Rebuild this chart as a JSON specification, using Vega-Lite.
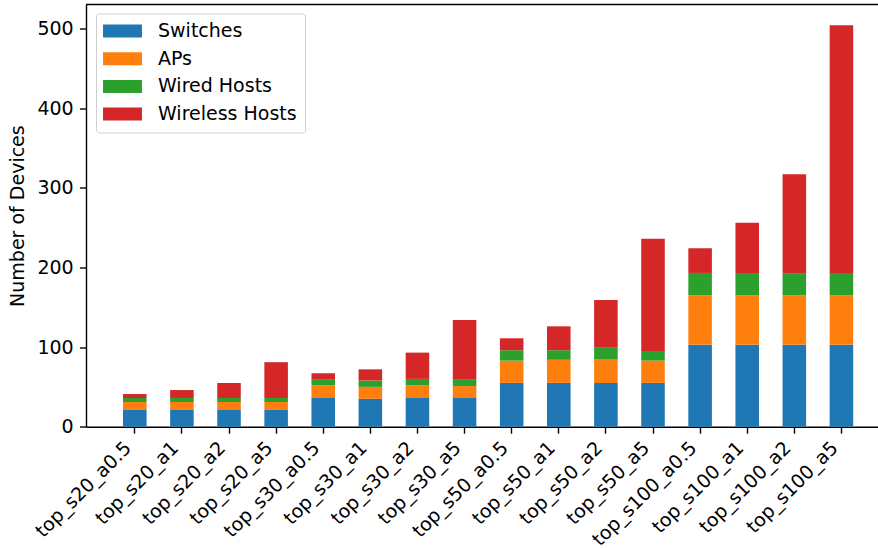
{
  "$schema": "https://vega.github.io/schema/vega-lite/v6.json",
  "autosize": {"type": "none"},
  "width": 792,
  "height": 422.2,
  "padding": {"left": 86, "top": 4.5, "right": 0, "bottom": 121.3},
  "background": "white",
  "config": {
    "view": {"stroke": null},
    "font": "DejaVu Sans",
    "axis": {
      "labelFont": "DejaVu Sans",
      "labelFontSize": 19,
      "labelColor": "black",
      "titleFont": "DejaVu Sans",
      "titleFontSize": 19,
      "titleFontWeight": "normal",
      "titleColor": "black",
      "domainColor": "black",
      "domainWidth": 1.4,
      "tickColor": "black",
      "tickWidth": 1.4,
      "tickSize": 6.5,
      "grid": false
    }
  },
  "layer": [
    {
      "data": {
        "values": [
          {"topology": "top_s20_a0.5", "Switches": 21, "APs": 10, "Wired Hosts": 5, "Wireless Hosts": 5},
          {"topology": "top_s20_a1", "Switches": 21, "APs": 10, "Wired Hosts": 5, "Wireless Hosts": 10},
          {"topology": "top_s20_a2", "Switches": 21, "APs": 10, "Wired Hosts": 5, "Wireless Hosts": 19},
          {"topology": "top_s20_a5", "Switches": 21, "APs": 10, "Wired Hosts": 5, "Wireless Hosts": 45},
          {"topology": "top_s30_a0.5", "Switches": 36, "APs": 16, "Wired Hosts": 7, "Wireless Hosts": 8},
          {"topology": "top_s30_a1", "Switches": 35, "APs": 15, "Wired Hosts": 8, "Wireless Hosts": 14},
          {"topology": "top_s30_a2", "Switches": 36, "APs": 16, "Wired Hosts": 8, "Wireless Hosts": 33},
          {"topology": "top_s30_a5", "Switches": 36, "APs": 15, "Wired Hosts": 8, "Wireless Hosts": 75},
          {"topology": "top_s50_a0.5", "Switches": 55, "APs": 28, "Wired Hosts": 13, "Wireless Hosts": 15},
          {"topology": "top_s50_a1", "Switches": 55, "APs": 29, "Wired Hosts": 12, "Wireless Hosts": 30},
          {"topology": "top_s50_a2", "Switches": 55, "APs": 30, "Wired Hosts": 14, "Wireless Hosts": 60},
          {"topology": "top_s50_a5", "Switches": 55, "APs": 28, "Wired Hosts": 12, "Wireless Hosts": 141},
          {"topology": "top_s100_a0.5", "Switches": 103, "APs": 62, "Wired Hosts": 28, "Wireless Hosts": 31},
          {"topology": "top_s100_a1", "Switches": 103, "APs": 62, "Wired Hosts": 28, "Wireless Hosts": 63},
          {"topology": "top_s100_a2", "Switches": 103, "APs": 62, "Wired Hosts": 27, "Wireless Hosts": 125},
          {"topology": "top_s100_a5", "Switches": 103, "APs": 62, "Wired Hosts": 28, "Wireless Hosts": 311}
        ]
      },
      "transform": [
        {"fold": ["Switches", "APs", "Wired Hosts", "Wireless Hosts"], "as": ["Device Type", "Count"]},
        {
          "lookup": "Device Type",
          "from": {
            "data": {
              "values": [
                {"Device Type": "Switches", "layer": 1},
                {"Device Type": "APs", "layer": 2},
                {"Device Type": "Wired Hosts", "layer": 3},
                {"Device Type": "Wireless Hosts", "layer": 4}
              ]
            },
            "key": "Device Type",
            "fields": ["layer"]
          }
        }
      ],
      "mark": {"type": "bar"},
      "encoding": {
        "x": {
          "field": "topology",
          "type": "nominal",
          "sort": null,
          "scale": {"paddingInner": 0.5, "paddingOuter": 0.656, "align": 0.599},
          "axis": {
            "title": null,
            "labelAngle": -45,
            "labelAlign": "right",
            "labelBaseline": "top",
            "labelPadding": 5,
            "labelOffset": -13,
            "labelLimit": 0,
            "labelOverlap": false
          }
        },
        "y": {
          "field": "Count",
          "type": "quantitative",
          "stack": "zero",
          "scale": {"domain": [0, 530], "nice": false, "zero": true},
          "axis": {
            "title": "Number of Devices",
            "values": [0, 100, 200, 300, 400, 500],
            "labelPadding": 6.3,
            "titlePadding": 9.5
          }
        },
        "order": {"field": "layer", "type": "quantitative", "sort": "ascending"},
        "color": {
          "field": "Device Type",
          "type": "nominal",
          "sort": ["Switches", "APs", "Wired Hosts", "Wireless Hosts"],
          "scale": {
            "domain": ["Switches", "APs", "Wired Hosts", "Wireless Hosts"],
            "range": ["#1f77b4", "#ff7f0e", "#2ca02c", "#d62728"]
          },
          "legend": {
            "title": null,
            "orient": "none",
            "legendX": 10,
            "legendY": 9,
            "symbolType": "M-2.05,-0.684H2.05V0.684H-2.05Z",
            "symbolSize": 361,
            "symbolOffset": 9,
            "symbolStrokeWidth": 0,
            "symbolOpacity": 1,
            "labelFont": "DejaVu Sans",
            "labelFontSize": 19,
            "labelColor": "black",
            "labelOffset": 26,
            "labelLimit": 0,
            "rowPadding": 7.7,
            "padding": 8,
            "strokeColor": "#cfcfcf",
            "fillColor": "rgba(255,255,255,0.8)",
            "cornerRadius": 3
          }
        }
      }
    },
    {
      "data": {"values": [{}]},
      "mark": {"type": "rule", "color": "black", "strokeWidth": 1.4},
      "encoding": {"y": {"datum": 530}}
    }
  ]
}
